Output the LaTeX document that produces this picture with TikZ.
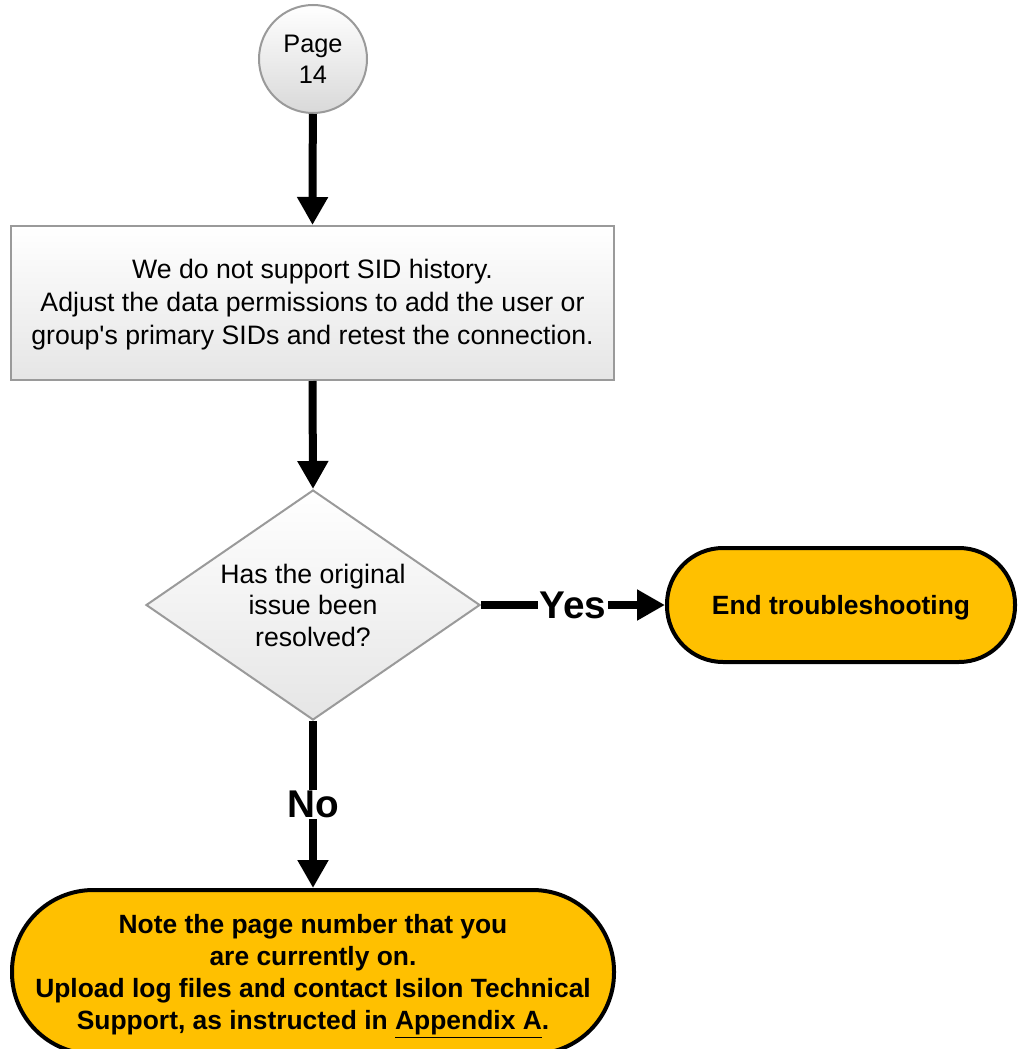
\documentclass[tikz,border=0pt]{standalone}
\usepackage{fontspec}
\setmainfont{Liberation Sans}
\usetikzlibrary{arrows.meta,shapes.geometric}
\definecolor{termfill}{HTML}{FFC000}
\definecolor{procline}{HTML}{9A9A9A}
\tikzset{
  procbox/.style={rectangle, draw=procline, line width=1.5pt,
    top color=white, bottom color=black!10, inner sep=0pt},
  pagecircle/.style={circle, draw=procline, line width=1.5pt,
    top color=white, bottom color=black!15, inner sep=0pt,
    minimum size=81pt},
  decision/.style={diamond, draw=procline, line width=1.5pt,
    top color=white, bottom color=black!10, inner sep=0pt,
    minimum width=250.5pt, minimum height=172.5pt},
  terminal/.style={rectangle, draw=black, line width=3pt, fill=termfill,
    inner sep=0pt},
  flow/.style={line width=6pt, -{Triangle[length=21pt,width=22pt]}},
  answer/.style={fill=white, inner sep=1pt, font=\fontsize{29}{32}\selectfont\bfseries},
  bodytext/.style={align=center, font=\fontsize{20}{24.75}\selectfont},
  boldtext/.style={align=center, font=\fontsize{19.8}{24.2}\selectfont\bfseries}
}
\begin{document}
\begin{tikzpicture}[x=0.75pt,y=-0.75pt]
\useasboundingbox (0,0) rectangle (1018,1049);
\clip (0,0) rectangle (1018,1049);

% start connector
\node[pagecircle, bodytext, font=\fontsize{19}{23.2}\selectfont] (page) at (313,59) {Page\\14};

% process step
\node[procbox, minimum width=452.25pt, minimum height=115.5pt] (sid) at (312.5,303) {};
\node[bodytext] (sidtext) at ([yshift=-1.5pt]sid.center) {We do not support SID history.\\Adjust the data permissions to add the user or\\group\textquotesingle s primary SIDs and retest the connection.};

% decision
\node[decision] (resolved) at (313,605) {};
\node[bodytext, font=\fontsize{20}{23.6}\selectfont] (resolvedtext) at (resolved.center) {Has the original\\issue been\\resolved?};

% terminators
\node[terminal, minimum width=261pt, minimum height=85.5pt, rounded corners=42pt] (end) at (841,605) {};
\node[boldtext] (endtext) at ([yshift=-2pt]end.center) {End troubleshooting};

\node[terminal, minimum width=451.5pt, minimum height=123pt, rounded corners=61pt] (support) at (313,972) {};
\node[boldtext] (supporttext) at ([yshift=-3pt]support.center) {Note the page number that you\\are currently on.\\Upload log files and contact Isilon Technical\\Support, as instructed in \underline{Appendix A}.};

% connectors
\draw[flow] (page) -- (sid.north);
\draw[flow] (sid.south) -- (resolved.north);
\draw[flow] (resolved.east) -- node[answer] (yes) {Yes} (end.west);
\draw[flow] (resolved.south) -- node[answer] (no) {No} (support.north);
\end{tikzpicture}
\end{document}
